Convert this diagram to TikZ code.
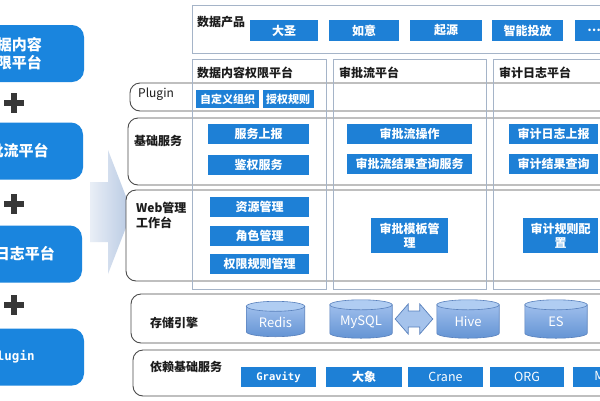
\documentclass[tikz,border=0pt]{standalone}
\usepackage{fontspec}
\newfontfamily\cjk{Noto Sans CJK SC}
\newfontfamily\monof{DejaVu Sans Mono}
\usetikzlibrary{calc}
\definecolor{bboxc}{RGB}{30,128,214}
\definecolor{lboxc}{RGB}{26,133,222}
\definecolor{colln}{RGB}{165,180,200}
\definecolor{rowln}{RGB}{75,75,75}
\definecolor{plusc}{RGB}{55,55,55}
\definecolor{cylbot}{RGB}{100,148,212}
\definecolor{cyltopc}{RGB}{158,190,236}
\definecolor{cyllid}{RGB}{176,205,242}
\definecolor{cylo}{RGB}{88,128,188}
\definecolor{arrc}{RGB}{182,200,226}
\definecolor{txtc}{RGB}{28,28,28}
\definecolor{darrf}{RGB}{165,195,236}
\newcommand\drawcyl[1]{%
\path[cylside] let \p1=(#1.north west), \p2=(#1.south east), \n1={(\x2-\x1)/2} in
 (\x1,\y1-5pt) -- (\x1,\y2+5pt) arc[start angle=180, end angle=360, x radius=\n1*1pt, y radius=5pt] -- (\x2,\y1-5pt) -- cycle;
\path[cyllidst] let \p1=(#1.north west), \p2=(#1.south east), \n1={(\x2-\x1)/2} in
 ({(\x1+\x2)/2},\y1-5pt) ellipse[x radius=\n1*1pt, y radius=5pt];
}
\begin{document}
\begin{tikzpicture}[x=1pt,y=-1pt,
  bb/.style 2 args={fill=bboxc, text=white, font=\cjk\bfseries\fontsize{12}{14}\selectfont, inner sep=0pt, align=center, minimum width=#1, minimum height=#2},
  rowbox/.style={draw=rowln, line width=0.9pt, rounded corners=10pt, fill=white},
  colbox/.style={draw=colln, line width=1pt},
  lbl/.style={text=txtc, font=\cjk\bfseries\fontsize{12}{15}\selectfont, anchor=west, inner sep=0pt, align=left},
  bigbox/.style={fill=lboxc, rounded corners=12pt, text=white, font=\cjk\bfseries\fontsize{15}{18}\selectfont, align=center, minimum width=144, minimum height=57, inner sep=0pt},
  plus/.style={draw=plusc, line width=6pt},
  cylside/.style={draw=cylo, line width=0.6pt, top color=cyltopc, bottom color=cylbot},
  cyllidst/.style={draw=cylo, line width=0.6pt, fill=cyllid},
  cyltext/.style={text=white, font=\cjk\fontsize{13}{15}\selectfont, inner sep=0pt},
  darr/.style={draw=cylo, line width=0.7pt, fill=darrf}
]
\useasboundingbox (0,0) rectangle (600,400);
\clip (0,0) rectangle (600,400);
\fill[white] (0,0) rectangle (600,400);

% left column
\node[bigbox] (lb1) at (12,53.5) {数据内容\\权限平台};
\node[bigbox] (lb2) at (11,151) {审批流平台};
\node[bigbox] (lb3) at (10,254) {审计日志平台};
\node[bigbox, font=\monof\bfseries\fontsize{12.5}{14}\selectfont] (lb4) at (12,357) {Plugin};
\draw[plus] (4,103) -- (24,103) (14,93) -- (14,113);
\draw[plus] (4,204) -- (24,204) (14,194) -- (14,214);
\draw[plus] (4,305) -- (24,305) (14,295) -- (14,315);

% big arrow
\shade[left color=arrc!30!white, right color=arrc] (90,182) -- (108,182) -- (108,150) -- (132,212) -- (108,274) -- (108,242) -- (90,242) -- cycle;

% row boxes
\node[rowbox, minimum width=490, minimum height=28] (rplug) at (375,97) {};
\node[rowbox, minimum width=492, minimum height=67] (rbase) at (374,151.5) {};
\node[rowbox, minimum width=494, minimum height=91] (rweb) at (373,235.5) {};
\node[rowbox, minimum width=489, minimum height=49] (rstore) at (375.5,318.5) {};
\node[rowbox, minimum width=487, minimum height=46] (rdep) at (376.5,373) {};

% column boxes
\node[colbox, minimum width=428, minimum height=48] (prod) at (406,29) {};
\node[colbox, minimum width=134, minimum height=230] (col1) at (259,174) {};
\node[colbox, minimum width=153, minimum height=230] (col2) at (409.5,174) {};
\node[colbox, minimum width=127, minimum height=230] (col3) at (556.5,174) {};

% labels
\node[lbl] (tprod) at (197,22) {数据产品};
\node[lbl] (tcol1) at (197,73) {数据内容权限平台};
\node[lbl] (tcol2) at (339,73) {审批流平台};
\node[lbl] (tcol3) at (499,73) {审计日志平台};
\node[lbl, font=\cjk\fontsize{12}{14}\selectfont] (tplug) at (138,94) {Plugin};
\node[lbl] (tbase) at (134,141) {基础服务};
\node[lbl] (tweb) at (136,215.5) {Web管理\\工作台};
\node[lbl] (tstore) at (150,323) {存储引擎};
\node[lbl] (tdep) at (150,367) {依赖基础服务};

% product boxes
\node[bb={68}{21}] (p1) at (284,30.5) {大圣};
\node[bb={70}{21}] (p2) at (364,30.5) {如意};
\node[bb={72}{21}] (p3) at (446,30.5) {起源};
\node[bb={71}{21}] (p4) at (527.5,30.5) {智能投放};
\node[bb={38}{21}] (p5) at (594,30.5) {…};

% plugin boxes
\node[bb={63}{18}, font=\cjk\bfseries\fontsize{11}{13}\selectfont] (pl1) at (227.5,99) {自定义组织};
\node[bb={51}{18}, font=\cjk\bfseries\fontsize{11}{13}\selectfont] (pl2) at (288,99) {授权规则};

% base services
\node[bb={101}{20}] (b1) at (258.5,134) {服务上报};
\node[bb={101}{20}] (b2) at (258.5,164.5) {鉴权服务};
\node[bb={125}{20}] (b3) at (409.5,134) {审批流操作};
\node[bb={125}{20}] (b4) at (409.5,164) {审批流结果查询服务};
\node[bb={89}{20}] (b5) at (553.5,134) {审计日志上报};
\node[bb={89}{20}] (b6) at (553.5,163.5) {审计结果查询};

% web
\node[bb={99}{20}] (w1) at (259.5,207) {资源管理};
\node[bb={99}{20}] (w2) at (259.5,235.5) {角色管理};
\node[bb={99}{20}] (w3) at (259.5,264) {权限规则管理};
\node[bb={77}{35}] (w4) at (409.5,235.5) {审批模板管\\理};
\node[bb={75}{35}] (w5) at (560.5,235.5) {审计规则配\\置};

% storage
\node[minimum width=58, minimum height=35, inner sep=0pt] (redis) at (275.5,319) {};
\node[minimum width=62, minimum height=38, inner sep=0pt] (mysql) at (361,319) {};
\node[minimum width=62, minimum height=38, inner sep=0pt] (hive) at (468,319) {};
\node[minimum width=62, minimum height=38, inner sep=0pt] (es) at (556,319) {};
\drawcyl{redis}\drawcyl{mysql}\drawcyl{hive}\drawcyl{es}
\node[cyltext] (redisT) at ([yshift=-3pt]redis.center) {Redis};
\node[cyltext] (mysqlT) at ([yshift=-3pt]mysql.center) {MySQL};
\node[cyltext] (hiveT) at ([yshift=-3pt]hive.center) {Hive};
\node[cyltext] (esT) at ([yshift=-3pt]es.center) {ES};
\coordinate (dl) at ([xshift=3pt]mysql.east);
\coordinate (dr) at ([xshift=-4pt]hive.west);
\path[darr] (dl) -- ++(13,-15) -- ++(0,7) -- ($(dr)+(-13,-8)$) -- ++(0,-7) -- (dr) -- ++(-13,15) -- ++(0,-7) -- ($(dl)+(13,8)$) -- ++(0,7) -- cycle;

% dependencies
\node[bb={75}{20}, font=\monof\bfseries\fontsize{10.5}{12}\selectfont] (d1) at (278.5,377) {Gravity};
\node[bb={76}{20}] (d2) at (364,377) {大象};
\node[bb={75}{20}, font=\cjk\fontsize{12.5}{14}\selectfont] (d3) at (445.5,377) {Crane};
\node[bb={74}{20}, font=\cjk\fontsize{12.5}{14}\selectfont] (d4) at (527,377) {ORG};
\node[bb={62}{20}, font=\cjk\fontsize{12.5}{14}\selectfont] (d5) at (604,377) {MQ};
\end{tikzpicture}
\end{document}
